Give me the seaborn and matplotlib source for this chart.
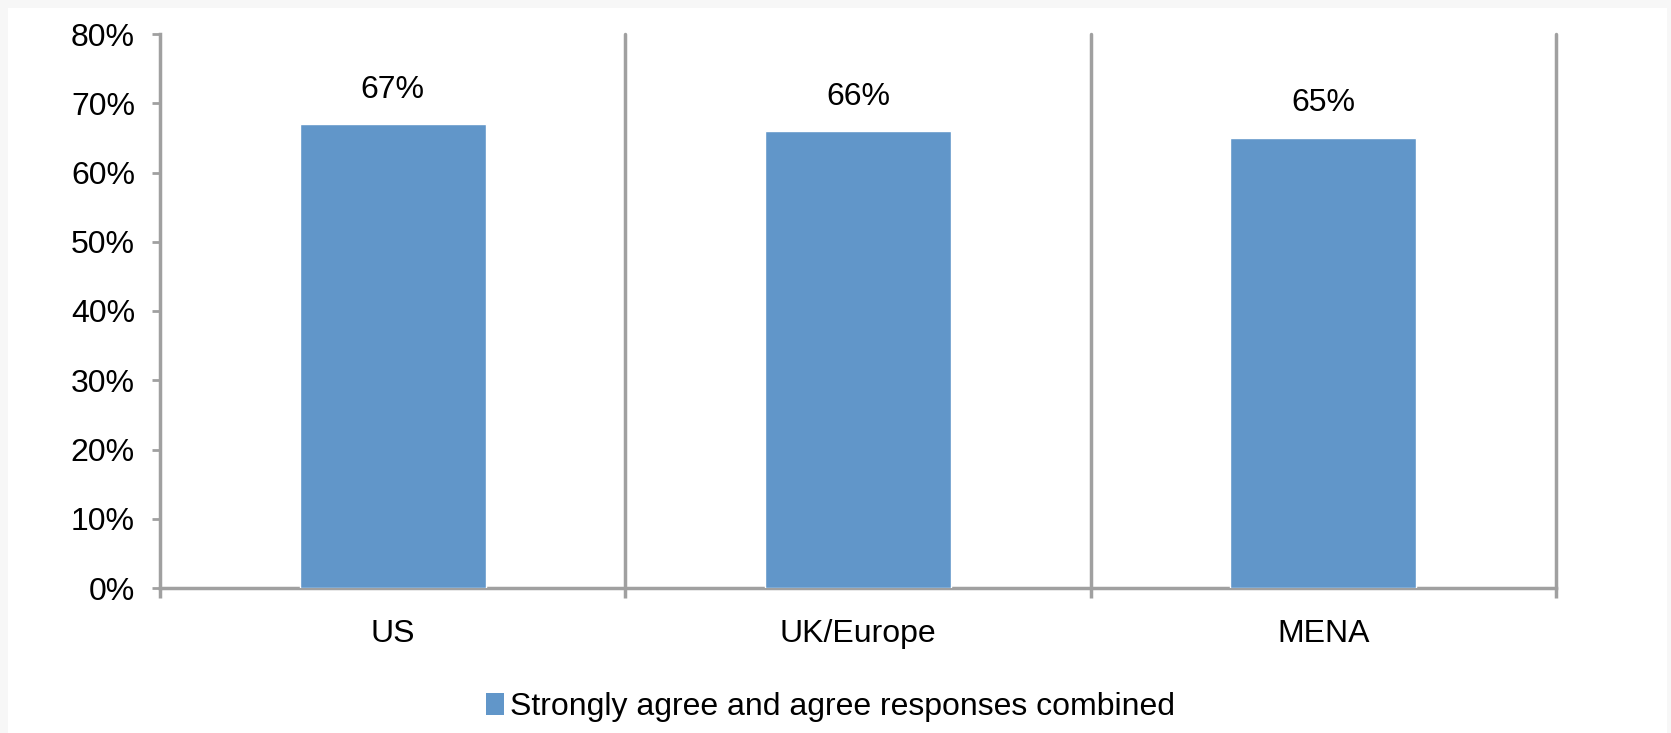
import matplotlib
matplotlib.use("Agg")
import matplotlib.pyplot as plt
import seaborn as sns
import pandas as pd
from matplotlib.patches import Rectangle, Patch
from matplotlib.ticker import FixedLocator

categories = ["US", "UK/Europe", "MENA"]
values = [0.67, 0.66, 0.65]
value_labels = ["67%", "66%", "65%"]
series_name = "Strongly agree and agree responses combined"
yticks = [0.0, 0.1, 0.2, 0.3, 0.4, 0.5, 0.6, 0.7, 0.8]
ytick_labels = ["0%", "10%", "20%", "30%", "40%", "50%", "60%", "70%", "80%"]

sns.set_theme(style="white")
plt.rcParams["font.family"] = ["Liberation Sans", "DejaVu Sans"]
plt.rcParams["text.color"] = "black"

bar_color = "#6196C9"
line_color = "#A0A0A0"
fs = 23

fig = plt.figure(figsize=(16.71, 7.33), dpi=100)
fig.patch.set_facecolor("#F7F7F7")
fig.patches.append(Rectangle((8 / 1671, 0), 1 - 12 / 1671, 1 - 8 / 733,
                             transform=fig.transFigure, facecolor="white",
                             edgecolor="none", zorder=-10))

ax = fig.add_axes([160 / 1671, 1 - 588 / 733, (1556 - 160) / 1671, (588 - 34) / 733])
ax.set_facecolor("none")

df = pd.DataFrame({"region": categories, "share": values})
sns.barplot(data=df, x="region", y="share", color=bar_color, width=0.4,
            saturation=1, ax=ax, zorder=3)

ax.set_xlim(-0.5, 2.5)
ax.set_ylim(0, 0.8)
ax.set_xlabel("")
ax.set_ylabel("")

# category boundary lines
for b in [0.5, 1.5, 2.5]:
    ax.axvline(b, ymin=0, ymax=1, color=line_color, lw=2.5, zorder=2, clip_on=False)

for s in ["top", "right"]:
    ax.spines[s].set_visible(False)
for s in ["left", "bottom"]:
    ax.spines[s].set_color(line_color)
    ax.spines[s].set_linewidth(2.5)

ax.set_yticks(yticks)
ax.set_yticklabels(ytick_labels)
ax.tick_params(axis="y", which="major", length=6, width=2, color=line_color,
               direction="out", pad=12, labelsize=fs, labelcolor="black", left=True)
ax.tick_params(axis="x", which="major", length=0, pad=22, labelsize=fs,
               labelcolor="black", bottom=True)
ax.xaxis.set_minor_locator(FixedLocator([-0.5, 0.5, 1.5, 2.5]))
ax.tick_params(axis="x", which="minor", length=7, width=2.5, color=line_color,
               direction="out", bottom=True)

for i, (v, lab) in enumerate(zip(values, value_labels)):
    ax.annotate(lab, xy=(i, v), xytext=(0, 14), textcoords="offset points",
                ha="center", va="bottom", fontsize=fs, color="black")

handle = Patch(facecolor=bar_color, edgecolor="none")
fig.legend([handle], [series_name], loc="center", bbox_to_anchor=(0.497, 1 - 707 / 733),
           frameon=False, fontsize=fs, handlelength=0.55, handleheight=0.7,
           handletextpad=0.2, labelcolor="black")

fig.savefig("out.png", dpi=100, facecolor=fig.get_facecolor())
